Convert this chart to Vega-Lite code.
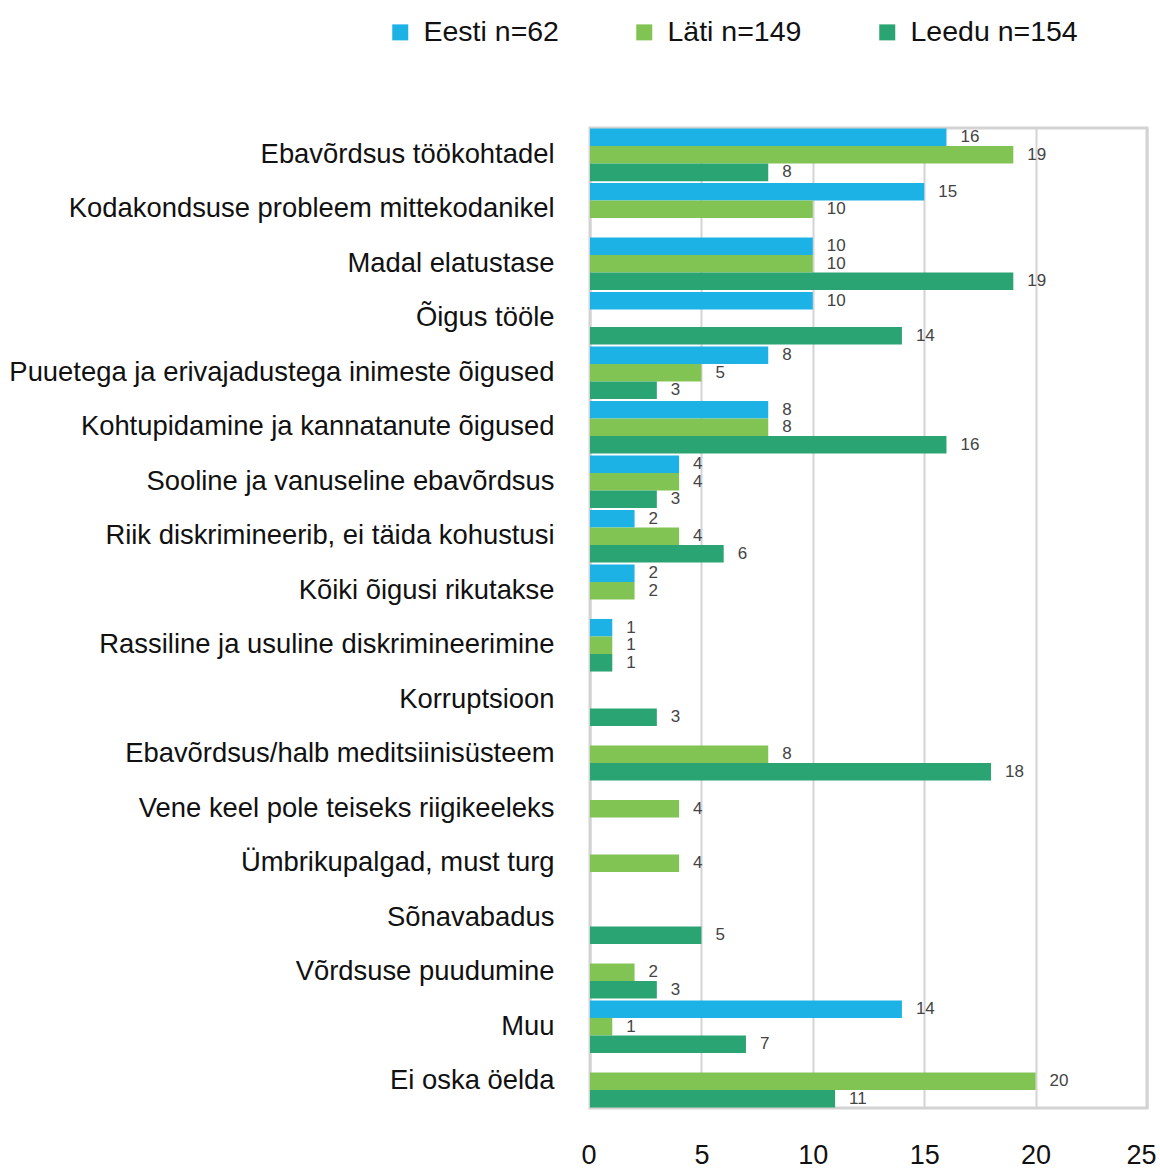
{
  "$schema": "https://vega.github.io/schema/vega-lite/v6.json",
  "autosize": "none",
  "width": 557,
  "height": 980,
  "padding": {"left": 590, "top": 128, "right": 13, "bottom": 61},
  "background": "white",
  "config": {
    "font": "Liberation Sans",
    "view": {"stroke": "#d3d3d3", "strokeWidth": 3}
  },
  "data": {
    "values": [
      {"teema": "Ebavõrdsus töökohtadel", "riik": "Eesti n=62", "vaartus": 16},
      {"teema": "Ebavõrdsus töökohtadel", "riik": "Läti n=149", "vaartus": 19},
      {"teema": "Ebavõrdsus töökohtadel", "riik": "Leedu n=154", "vaartus": 8},
      {"teema": "Kodakondsuse probleem mittekodanikel", "riik": "Eesti n=62", "vaartus": 15},
      {"teema": "Kodakondsuse probleem mittekodanikel", "riik": "Läti n=149", "vaartus": 10},
      {"teema": "Madal elatustase", "riik": "Eesti n=62", "vaartus": 10},
      {"teema": "Madal elatustase", "riik": "Läti n=149", "vaartus": 10},
      {"teema": "Madal elatustase", "riik": "Leedu n=154", "vaartus": 19},
      {"teema": "Õigus tööle", "riik": "Eesti n=62", "vaartus": 10},
      {"teema": "Õigus tööle", "riik": "Leedu n=154", "vaartus": 14},
      {"teema": "Puuetega ja erivajadustega inimeste õigused", "riik": "Eesti n=62", "vaartus": 8},
      {"teema": "Puuetega ja erivajadustega inimeste õigused", "riik": "Läti n=149", "vaartus": 5},
      {"teema": "Puuetega ja erivajadustega inimeste õigused", "riik": "Leedu n=154", "vaartus": 3},
      {"teema": "Kohtupidamine ja kannatanute õigused", "riik": "Eesti n=62", "vaartus": 8},
      {"teema": "Kohtupidamine ja kannatanute õigused", "riik": "Läti n=149", "vaartus": 8},
      {"teema": "Kohtupidamine ja kannatanute õigused", "riik": "Leedu n=154", "vaartus": 16},
      {"teema": "Sooline ja vanuseline ebavõrdsus", "riik": "Eesti n=62", "vaartus": 4},
      {"teema": "Sooline ja vanuseline ebavõrdsus", "riik": "Läti n=149", "vaartus": 4},
      {"teema": "Sooline ja vanuseline ebavõrdsus", "riik": "Leedu n=154", "vaartus": 3},
      {"teema": "Riik diskrimineerib, ei täida kohustusi", "riik": "Eesti n=62", "vaartus": 2},
      {"teema": "Riik diskrimineerib, ei täida kohustusi", "riik": "Läti n=149", "vaartus": 4},
      {"teema": "Riik diskrimineerib, ei täida kohustusi", "riik": "Leedu n=154", "vaartus": 6},
      {"teema": "Kõiki õigusi rikutakse", "riik": "Eesti n=62", "vaartus": 2},
      {"teema": "Kõiki õigusi rikutakse", "riik": "Läti n=149", "vaartus": 2},
      {"teema": "Rassiline ja usuline diskrimineerimine", "riik": "Eesti n=62", "vaartus": 1},
      {"teema": "Rassiline ja usuline diskrimineerimine", "riik": "Läti n=149", "vaartus": 1},
      {"teema": "Rassiline ja usuline diskrimineerimine", "riik": "Leedu n=154", "vaartus": 1},
      {"teema": "Korruptsioon", "riik": "Leedu n=154", "vaartus": 3},
      {"teema": "Ebavõrdsus/halb meditsiinisüsteem", "riik": "Läti n=149", "vaartus": 8},
      {"teema": "Ebavõrdsus/halb meditsiinisüsteem", "riik": "Leedu n=154", "vaartus": 18},
      {"teema": "Vene keel pole teiseks riigikeeleks", "riik": "Läti n=149", "vaartus": 4},
      {"teema": "Ümbrikupalgad, must turg", "riik": "Läti n=149", "vaartus": 4},
      {"teema": "Sõnavabadus", "riik": "Leedu n=154", "vaartus": 5},
      {"teema": "Võrdsuse puudumine", "riik": "Läti n=149", "vaartus": 2},
      {"teema": "Võrdsuse puudumine", "riik": "Leedu n=154", "vaartus": 3},
      {"teema": "Muu", "riik": "Eesti n=62", "vaartus": 14},
      {"teema": "Muu", "riik": "Läti n=149", "vaartus": 1},
      {"teema": "Muu", "riik": "Leedu n=154", "vaartus": 7},
      {"teema": "Ei oska öelda", "riik": "Läti n=149", "vaartus": 20},
      {"teema": "Ei oska öelda", "riik": "Leedu n=154", "vaartus": 11}
    ]
  },
  "encoding": {
    "y": {
      "field": "teema",
      "type": "nominal",
      "sort": [
        "Ebavõrdsus töökohtadel",
        "Kodakondsuse probleem mittekodanikel",
        "Madal elatustase",
        "Õigus tööle",
        "Puuetega ja erivajadustega inimeste õigused",
        "Kohtupidamine ja kannatanute õigused",
        "Sooline ja vanuseline ebavõrdsus",
        "Riik diskrimineerib, ei täida kohustusi",
        "Kõiki õigusi rikutakse",
        "Rassiline ja usuline diskrimineerimine",
        "Korruptsioon",
        "Ebavõrdsus/halb meditsiinisüsteem",
        "Vene keel pole teiseks riigikeeleks",
        "Ümbrikupalgad, must turg",
        "Sõnavabadus",
        "Võrdsuse puudumine",
        "Muu",
        "Ei oska öelda"
      ],
      "scale": {"paddingInner": 0.035, "paddingOuter": 0.01},
      "axis": {
        "title": null,
        "ticks": false,
        "domain": false,
        "labelFontSize": 27.4,
        "labelColor": "#111111",
        "labelPadding": 36,
        "labelLimit": 700
      }
    },
    "yOffset": {
      "field": "riik",
      "type": "nominal",
      "sort": ["Eesti n=62", "Läti n=149", "Leedu n=154"],
      "scale": {"paddingInner": 0, "paddingOuter": 0}
    },
    "x": {
      "field": "vaartus",
      "type": "quantitative",
      "scale": {"domain": [0, 25], "nice": false},
      "axis": {
        "title": null,
        "values": [0, 5, 10, 15, 20, 25],
        "ticks": false,
        "tickSize": 0,
        "domain": false,
        "grid": true,
        "gridColor": "#d3d3d3",
        "gridWidth": 2,
        "labelFontSize": 27,
        "labelColor": "#111111",
        "labelPadding": 34,
        "labelFlush": true,
        "labelFlushOffset": 9
      }
    }
  },
  "layer": [
    {
      "mark": {"type": "bar"},
      "encoding": {
        "color": {
          "field": "riik",
          "type": "nominal",
          "sort": ["Eesti n=62", "Läti n=149", "Leedu n=154"],
          "scale": {
            "domain": ["Eesti n=62", "Läti n=149", "Leedu n=154"],
            "range": ["#1db2e6", "#82c454", "#2aa472"]
          },
          "legend": {
            "title": null,
            "orient": "none",
            "direction": "horizontal",
            "legendX": -204,
            "legendY": -110,
            "symbolType": "square",
            "symbolSize": 256,
            "symbolStrokeWidth": 0,
            "labelFontSize": 28.5,
            "labelColor": "#111111",
            "labelOffset": 9,
            "labelLimit": 400,
            "columnPadding": 71
          }
        }
      }
    },
    {
      "mark": {"type": "text", "align": "left", "baseline": "middle", "dx": 14, "fontSize": 17, "color": "#444444"},
      "encoding": {
        "text": {"field": "vaartus", "type": "quantitative"}
      }
    }
  ]
}
